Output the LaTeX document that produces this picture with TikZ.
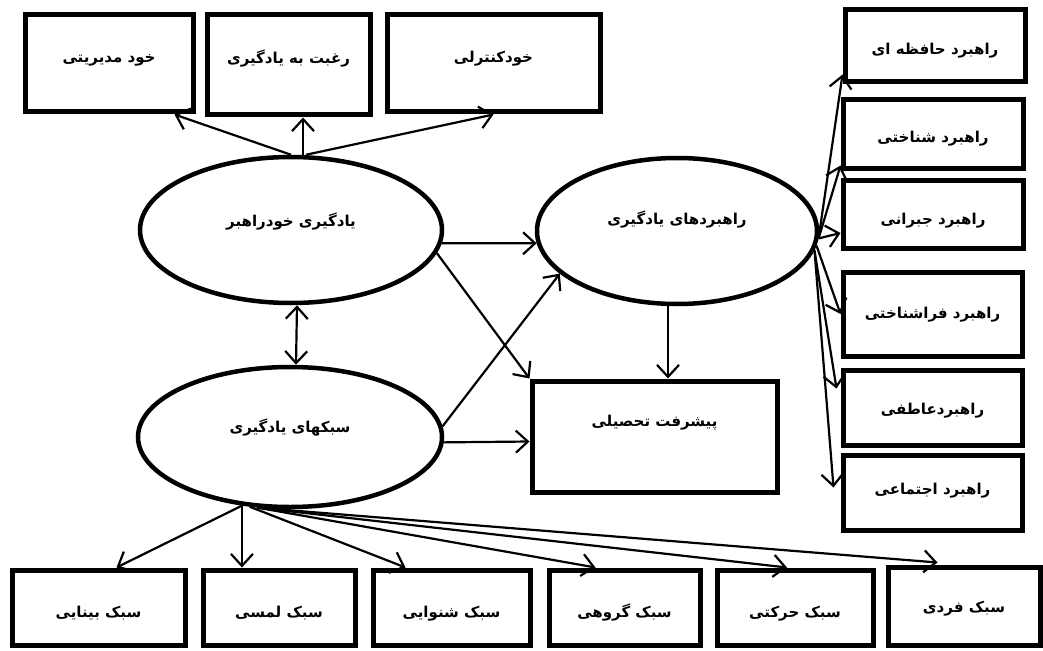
\documentclass[tikz,border=0pt]{standalone}
\usepackage{fontspec}
\newfontfamily\farsi[Script=Arabic]{DejaVu Sans}
\TeXXeTstate=1
\usetikzlibrary{arrows.meta,shapes.geometric,calc}
\newcommand{\fatxt}[2]{\raisebox{#1}[0pt][0pt]{\farsi\bfseries\fontsize{15}{17}\selectfont #2}}
\tikzset{
  box/.style={draw, line width=5pt, rectangle, inner sep=0pt},
  oval/.style={draw, line width=4.5pt, ellipse, inner sep=0pt},
  conn/.style={line width=2.2pt, -{Straight Barb[length=12pt,width=22pt]}},
  dconn/.style={line width=2.2pt, {Straight Barb[length=12pt,width=22pt]}-{Straight Barb[length=12pt,width=22pt]}}
}
\begin{document}
\begin{tikzpicture}[x=1pt,y=-1pt]
\fill[white] (0,0) rectangle (1043,650);
\useasboundingbox (0,0) rectangle (1043,650);
% top boxes
\node[box, minimum width=168pt, minimum height=97pt] (b1) at (109,63.5) {\fatxt{0.5pt}{\beginR خود مدیریتی\endR}};
\node[box, minimum width=163pt, minimum height=100pt] (b2) at (288.5,65) {\fatxt{1pt}{\beginR رغبت به یادگیری\endR}};
\node[box, minimum width=213pt, minimum height=97pt] (b3) at (493.5,63.5) {\fatxt{0.5pt}{\beginR خودکنترلی\endR}};
% ellipses
\node[oval, minimum width=302pt, minimum height=146pt] (e1) at (291,230) {\fatxt{3.5pt}{\beginR یادگیری خودراهبر\endR}};
\node[oval, minimum width=304pt, minimum height=140pt] (e2) at (290,437) {\fatxt{4.5pt}{\beginR سبکهای یادگیری\endR}};
\node[oval, minimum width=280pt, minimum height=146pt] (e3) at (677,231) {\fatxt{6.5pt}{\beginR راهبردهای یادگیری\endR}};
% outcome
\node[box, minimum width=245pt, minimum height=111pt] (p) at (654.5,436.5) {\fatxt{10pt}{\beginR پیشرفت تحصیلی\endR}};
% right column
\node[box, minimum width=180pt, minimum height=72pt] (r1) at (935,46) {\fatxt{-8.5pt}{\beginR راهبرد حافظه ای\endR}};
\node[box, minimum width=180pt, minimum height=68pt] (r2) at (933,134) {\fatxt{-8.5pt}{\beginR راهبرد شناختی\endR}};
\node[box, minimum width=180pt, minimum height=68pt] (r3) at (933,214) {\fatxt{-10.5pt}{\beginR راهبرد جبرانی\endR}};
\node[box, minimum width=179pt, minimum height=84pt] (r4) at (932.5,314) {\fatxt{-4.5pt}{\beginR راهبرد فراشناختی\endR}};
\node[box, minimum width=179pt, minimum height=75pt] (r5) at (932.5,407.5) {\fatxt{-7pt}{\beginR راهبردعاطفی\endR}};
\node[box, minimum width=179pt, minimum height=75pt] (r6) at (932.5,492.5) {\fatxt{-2pt}{\beginR راهبرد اجتماعی\endR}};
% bottom row
\node[box, minimum width=173pt, minimum height=75pt] (s1) at (98.5,607.5) {\fatxt{-10pt}{\beginR سبک بینایی\endR}};
\node[box, minimum width=152pt, minimum height=75pt] (s2) at (279,607.5) {\fatxt{-10pt}{\beginR سبک لمسی\endR}};
\node[box, minimum width=157pt, minimum height=75pt] (s3) at (451.5,607.5) {\fatxt{-10pt}{\beginR سبک شنوایی\endR}};
\node[box, minimum width=151pt, minimum height=75pt] (s4) at (624.5,607.5) {\fatxt{-10pt}{\beginR سبک گروهی\endR}};
\node[box, minimum width=156pt, minimum height=75pt] (s5) at (795,607.5) {\fatxt{-10pt}{\beginR سبک حرکتی\endR}};
\node[box, minimum width=152pt, minimum height=78pt] (s6) at (964,606) {\fatxt{-6.5pt}{\beginR سبک فردی\endR}};
% top connectors
\draw[conn] (e1.north) -- ([xshift=-21pt]b1.south east);
\coordinate (t2) at ([xshift=12pt]e1.north);
\draw[conn] (t2) -- (t2 |- b2.south);
\draw[conn] ([xshift=15pt]e1.north) -- (b3.south);
% middle
\draw[conn] (e1.-5) -- (e3.185);
\draw[conn] (e1.-9) -- (p.north west);
\draw[conn] (e2.4) -- (e3.200);
\draw[conn] (e2.-2) -- ([yshift=-5pt]p.west);
\coordinate (t3) at ([xshift=-9pt]e3.south);
\draw[conn] (t3) -- (t3 |- p.north);
\draw[dconn] ([xshift=6pt]e1.south) -- ([xshift=6pt]e2.north);
% right fan
\draw[conn] (e3.-3) -- ([yshift=10pt]r1.south west);
\draw[conn] (e3.-3) -- ([yshift=5pt]r2.south west);
\draw[conn] (e3.-3) -- ([yshift=-19pt]r3.west);
\draw[conn] (e3.-6) -- (r4.west);
\draw[conn] (e3.-8) -- ([yshift=19pt,xshift=-4pt]r5.west);
\draw[conn] (e3.-8) -- ([yshift=5pt,xshift=-7pt]r6.west);
% bottom fan
\coordinate (g) at (e2.235);
\draw[conn] (g) -- ([xshift=18pt]s1.north);
\draw[conn] (g) -- (g |- s2.north);
\draw[conn] (e2.240) -- ([xshift=35pt]s3.north west);
\draw[conn] (e2.245) -- ([xshift=49pt]s4.north west);
\draw[conn] (e2.245) -- ([xshift=-8pt]s5.north);
\draw[conn] (e2.248) -- ([xshift=52pt,yshift=2pt]s6.north west);
\end{tikzpicture}
\end{document}
